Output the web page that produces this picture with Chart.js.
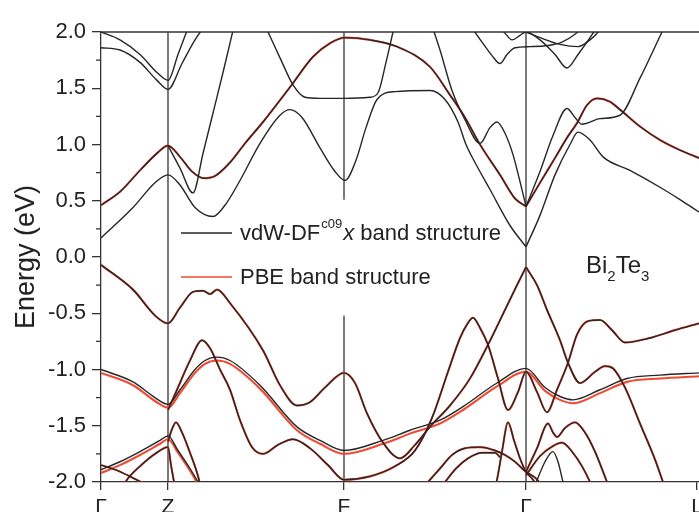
<!DOCTYPE html>
<html>
<head>
<meta charset="utf-8">
<script src="https://cdn.jsdelivr.net/npm/chart.js@4.4.1/dist/chart.umd.min.js"></script>
<style>
  body { margin: 0; background: #fff; }
  canvas { display: block; }
</style>
</head>
<body>
<canvas id="bands" width="699" height="512"></canvas>
<script>
// k-path (arbitrary path length units) and high-symmetry labels
const pathK = [0, 0.67, 2.43, 4.25, 5.96];
const pathLabels = ['Γ', 'Z', 'F', 'Γ', 'L'];

// conduction bands (vdW-DF only unless noted)
const u1K = [0, 0.19, 0.39, 0.56, 0.67, 0.77, 0.88];
const u1E = [2.00, 1.93, 1.80, 1.64, 1.57, 1.80, 2.06];
const u2K = [0, 0.19, 0.39, 0.56, 0.67, 0.81, 0.94, 1.04];
const u2E = [1.86, 1.84, 1.73, 1.57, 1.49, 1.72, 1.93, 2.06];
const u3K = [0.67, 0.79, 0.92, 1.02, 1.12, 1.22, 1.34];
const u3E = [0.99, 0.79, 0.57, 0.92, 1.28, 1.64, 2.09];
const u4K = [0, 0.19, 0.39, 0.57, 0.67, 0.79, 0.91, 1.03, 1.14, 1.29, 1.44, 1.62, 1.89, 2.12, 2.29, 2.44, 2.69, 2.96, 3.29, 3.49, 3.64, 3.79, 3.99, 4.14, 4.25];
const u4E = [0.46, 0.58, 0.77, 0.93, 0.99, 0.89, 0.76, 0.70, 0.72, 0.84, 1.01, 1.20, 1.51, 1.78, 1.90, 1.95, 1.93, 1.87, 1.69, 1.44, 1.24, 1.00, 0.73, 0.52, 0.45];
const c1K = [0, 0.32, 0.54, 0.67, 0.79, 0.94, 1.12, 1.24, 1.39, 1.59, 1.79, 1.89, 2.01, 2.19, 2.34, 2.44, 2.55, 2.65, 2.76, 2.94, 3.29, 3.44, 3.57, 3.65, 3.74, 3.89, 4.09, 4.25];
const c1E = [0.17, 0.44, 0.66, 0.73, 0.64, 0.44, 0.36, 0.46, 0.68, 1.01, 1.26, 1.31, 1.24, 0.97, 0.76, 0.68, 0.86, 1.15, 1.40, 1.47, 1.48, 1.40, 1.20, 1.00, 0.84, 0.60, 0.28, 0.09];
const f1K = [1.61, 1.67, 1.79, 1.92, 2.04, 2.19, 2.43, 2.69, 2.77, 2.85, 2.92, 2.95];
const f1E = [2.11, 2.00, 1.77, 1.53, 1.42, 1.41, 1.41, 1.42, 1.46, 1.73, 2.00, 2.11];
const lbK = [3.29, 3.39, 3.51, 3.64, 3.79, 3.89, 3.96, 4.04, 4.12, 4.19, 4.25];
const lbE = [2.11, 1.84, 1.48, 1.22, 1.01, 1.15, 1.20, 1.10, 0.91, 0.67, 0.45];
const t1K = [3.69, 3.81, 3.91, 3.99, 4.06, 4.14, 4.29, 4.47, 4.61, 4.74, 4.84];
const t1E = [2.06, 1.91, 1.79, 1.72, 1.80, 1.86, 1.87, 1.88, 1.91, 1.98, 2.06];
const t2K = [3.97, 4.04, 4.11, 4.19, 4.25, 4.39, 4.54, 4.66, 4.77, 4.89, 4.97];
const t2E = [2.06, 1.99, 1.93, 1.97, 2.00, 1.93, 1.80, 1.68, 1.80, 1.95, 2.06];
const t3K = [4.25, 4.39, 4.59, 4.77, 4.89, 4.97, 5.01];
const t3E = [2.00, 1.95, 1.89, 1.87, 1.93, 2.00, 2.06];
const r1K = [4.25, 4.39, 4.54, 4.66, 4.76, 4.86, 4.96, 5.09, 5.19, 5.39, 5.59, 5.79, 5.98];
const r1E = [0.45, 0.66, 0.88, 1.06, 1.19, 1.35, 1.41, 1.38, 1.31, 1.16, 1.04, 0.95, 0.88];
const r2K = [4.25, 4.39, 4.52, 4.66, 4.74, 4.81, 4.99, 5.19, 5.39, 5.61, 5.67];
const r2E = [0.45, 0.76, 1.08, 1.32, 1.24, 1.18, 1.23, 1.26, 1.59, 2.00, 2.11];
const r3K = [4.25, 4.39, 4.54, 4.69, 4.77, 4.89, 5.02, 5.29, 5.59, 5.79, 5.98];
const r3E = [0.09, 0.37, 0.73, 1.00, 1.11, 1.04, 0.89, 0.77, 0.62, 0.51, 0.40];

// valence bands
const v1K = [0, 0.32, 0.54, 0.67, 0.79, 0.92, 1.02, 1.09, 1.16, 1.29, 1.62, 1.79, 1.96, 2.09, 2.24, 2.43, 2.54, 2.66, 2.82, 2.99, 3.14, 3.29, 3.49, 3.69, 3.87, 4.04, 4.16, 4.25];
const v1E = [-0.07, -0.29, -0.52, -0.59, -0.45, -0.31, -0.30, -0.33, -0.29, -0.41, -0.83, -1.14, -1.32, -1.29, -1.16, -1.03, -1.12, -1.39, -1.65, -1.79, -1.67, -1.51, -1.32, -1.08, -0.78, -0.47, -0.25, -0.09];
const g1K = [4.25, 4.36, 4.46, 4.59, 4.67, 4.79, 4.94, 5.04, 5.12, 5.24, 5.39, 5.54, 5.62, 5.67];
const g1E = [-0.09, -0.25, -0.47, -0.74, -0.94, -1.12, -1.02, -0.97, -0.99, -1.16, -1.48, -1.80, -2.00, -2.12];
const s1K = [0.67, 0.76, 0.89, 1.01, 1.09, 1.19, 1.29, 1.39, 1.51, 1.62, 1.77, 1.92, 2.09, 2.27, 2.43, 2.69, 2.94, 3.14, 3.31, 3.47, 3.59, 3.66, 3.72, 3.79, 3.87, 3.97, 4.07, 4.17, 4.25, 4.36, 4.46, 4.56, 4.67, 4.76, 4.87, 4.99, 5.11, 5.24, 5.49, 5.74, 5.98];
const s1E = [-1.36, -1.18, -0.92, -0.74, -0.81, -1.00, -1.18, -1.45, -1.69, -1.75, -1.67, -1.62, -1.70, -1.85, -1.98, -1.95, -1.86, -1.72, -1.43, -1.02, -0.72, -0.60, -0.54, -0.63, -0.78, -1.08, -1.36, -1.20, -1.02, -1.20, -1.38, -1.18, -0.94, -0.69, -0.57, -0.56, -0.65, -0.76, -0.72, -0.65, -0.59];
const gmK = [0, 0.32, 0.54, 0.67, 0.79, 0.94, 1.04, 1.16, 1.29, 1.59, 1.96, 2.19, 2.43, 2.82, 3.09, 3.39, 3.62, 3.96, 4.25, 4.44, 4.59, 4.72, 4.99, 5.26, 5.59, 5.98];
const gmE = [-1.00, -1.11, -1.25, -1.31, -1.18, -1.00, -0.92, -0.89, -0.92, -1.14, -1.51, -1.63, -1.72, -1.63, -1.54, -1.45, -1.33, -1.12, -0.99, -1.16, -1.24, -1.27, -1.18, -1.08, -1.05, -1.03];
const gmPbeE = [-1.03, -1.14, -1.28, -1.34, -1.21, -1.03, -0.95, -0.92, -0.95, -1.17, -1.54, -1.66, -1.75, -1.66, -1.57, -1.48, -1.36, -1.15, -1.02, -1.19, -1.27, -1.30, -1.21, -1.11, -1.08, -1.06];
const l1K = [0, 0.19, 0.39, 0.59, 0.67, 0.77, 0.89, 0.97, 1.01];
const l1E = [-1.89, -1.82, -1.73, -1.63, -1.59, -1.72, -1.88, -2.00, -2.07];
const l1PbeE = [-1.92, -1.85, -1.76, -1.66, -1.62, -1.74, -1.90, -2.02, -2.09];
const l2K = [0.67, 0.71, 0.75, 0.81, 0.89, 0.98, 1.00];
const l2E = [-1.64, -1.53, -1.47, -1.56, -1.74, -1.98, -2.07];
const l3K = [0.19, 0.26, 0.39, 0.54, 0.67, 0.70, 0.73, 0.75];
const l3E = [-2.09, -1.98, -1.86, -1.75, -1.69, -1.85, -2.00, -2.09];
const l4K = [0, 0.14, 0.29, 0.40, 0.49];
const l4E = [-1.85, -1.89, -1.95, -2.00, -2.04];
const k1K = [3.27, 3.39, 3.51, 3.64, 3.79, 3.94, 4.04, 4.14, 4.25, 4.34, 4.41];
const k1E = [-2.00, -1.88, -1.76, -1.70, -1.69, -1.72, -1.76, -1.82, -1.91, -1.96, -2.03];
const k2K = [3.44, 3.55, 3.67, 3.81, 3.94, 3.99];
const k2E = [-2.00, -1.88, -1.79, -1.74, -1.74, -1.78];
const k3K = [3.93, 3.96, 4.01, 4.07, 4.13, 4.19, 4.25, 4.32, 4.37];
const k3E = [-2.07, -1.98, -1.73, -1.47, -1.63, -1.79, -1.91, -1.98, -2.07];
const k4K = [4.25, 4.36, 4.47, 4.52, 4.56, 4.64, 4.74, 4.84, 4.94, 5.06, 5.10];
const k4E = [-1.91, -1.70, -1.48, -1.56, -1.60, -1.52, -1.47, -1.56, -1.73, -2.00, -2.09];
const k5K = [4.25, 4.39, 4.52, 4.61, 4.71, 4.81, 4.89, 4.93];
const k5E = [-1.94, -1.77, -1.68, -1.65, -1.73, -1.86, -2.00, -2.09];
const k6K = [4.34, 4.44, 4.52, 4.57, 4.62, 4.64];
const k6E = [-2.03, -1.82, -1.73, -1.82, -2.00, -2.07];

const vdwBands = [
    [u1K, u1E], [u2K, u2E], [u3K, u3E], [u4K, u4E], [c1K, c1E], [f1K, f1E],
    [lbK, lbE], [t1K, t1E], [t2K, t2E], [t3K, t3E], [r1K, r1E], [r2K, r2E],
    [r3K, r3E], [v1K, v1E], [g1K, g1E], [s1K, s1E], [gmK, gmE], [l1K, l1E],
    [l2K, l2E], [l3K, l3E], [l4K, l4E], [k1K, k1E], [k2K, k2E], [k3K, k3E],
    [k4K, k4E], [k5K, k5E], [k6K, k6E],
];
const pbeBands = [
    [u4K, u4E], [r1K, r1E], [v1K, v1E], [g1K, g1E], [s1K, s1E], [gmK, gmPbeE],
    [l1K, l1PbeE], [l2K, l2E], [l3K, l3E], [l4K, l4E], [k1K, k1E], [k2K, k2E],
    [k3K, k3E], [k4K, k4E], [k5K, k5E],
];

const black = 'rgb(38,38,38)';
const red = 'rgb(238,74,52)';
const font = '"Liberation Sans", Arial, sans-serif';

function band(pair, color, width, order) {
    return {
        data: pair[0].map((k, i) => ({ x: k, y: pair[1][i] })),
        borderColor: color,
        borderWidth: width,
        pointRadius: 0,
        cubicInterpolationMode: 'monotone',
        fill: false,
        order: order,
    };
}

const datasets = vdwBands
    .map((b) => band(b, black, 1.4, 0))
    .concat(pbeBands.map((b) => band(b, red, 2.1, 1)));

const decor = {
    id: 'decor',
    beforeDatasetsDraw(chart) {
        const { ctx, chartArea, scales } = chart;
        const x = scales.x;
        const y = scales.y;
        ctx.save();
        ctx.strokeStyle = '#333';
        ctx.lineWidth = 1.3;
        // top frame
        ctx.beginPath();
        ctx.moveTo(chartArea.left, chartArea.top);
        ctx.lineTo(chartArea.right, chartArea.top);
        ctx.stroke();
        // high-symmetry verticals (F is interrupted by the legend)
        [1, 3].forEach((i) => {
            const px = x.getPixelForValue(pathK[i]);
            ctx.beginPath();
            ctx.moveTo(px, chartArea.top);
            ctx.lineTo(px, chartArea.bottom);
            ctx.stroke();
        });
        const fx = x.getPixelForValue(pathK[2]);
        ctx.beginPath();
        ctx.moveTo(fx, chartArea.top);
        ctx.lineTo(fx, y.getPixelForValue(0.51));
        ctx.moveTo(fx, y.getPixelForValue(-0.52));
        ctx.lineTo(fx, chartArea.bottom);
        ctx.stroke();
        // minor ticks
        for (let v = -1.75; v < 2; v += 0.5) {
            const py = y.getPixelForValue(v);
            ctx.beginPath();
            ctx.moveTo(chartArea.left - 5, py);
            ctx.lineTo(chartArea.left, py);
            ctx.stroke();
        }
        ctx.restore();
    },
    afterDatasetsDraw(chart) {
        const ctx = chart.ctx;
        ctx.save();
        // legend
        ctx.lineWidth = 1.4;
        ctx.strokeStyle = black;
        ctx.beginPath();
        ctx.moveTo(181, 233);
        ctx.lineTo(232, 233);
        ctx.stroke();
        ctx.strokeStyle = red;
        ctx.beginPath();
        ctx.moveTo(181, 277);
        ctx.lineTo(232, 277);
        ctx.stroke();

        ctx.fillStyle = '#222';
        ctx.textBaseline = 'middle';
        let tx = 240;
        ctx.font = '22px ' + font;
        ctx.fillText('vdW-DF', tx, 234);
        tx += ctx.measureText('vdW-DF').width + 1;
        ctx.font = '13px ' + font;
        ctx.fillText('c09', tx, 224);
        tx += ctx.measureText('c09').width + 1;
        ctx.font = 'italic 22px ' + font;
        ctx.fillText('x', tx, 234);
        tx += ctx.measureText('x').width;
        ctx.font = '22px ' + font;
        ctx.fillText(' band structure', tx, 234);
        ctx.fillText('PBE band structure', 240, 278);

        // compound label
        let bx = 586;
        const parts = [['Bi', 24, 266], ['2', 15, 277], ['Te', 24, 266], ['3', 15, 277]];
        parts.forEach((p) => {
            ctx.font = p[1] + 'px ' + font;
            ctx.fillText(p[0], bx, p[2]);
            bx += ctx.measureText(p[0]).width;
        });
        ctx.restore();
    },
};

new Chart(document.getElementById('bands'), {
    type: 'line',
    data: { datasets: datasets },
    plugins: [decor],
    options: {
        responsive: false,
        animation: false,
        layout: { padding: { top: 32, left: 0, right: 0, bottom: 0 } },
        plugins: { legend: { display: false }, tooltip: { enabled: false } },
        scales: {
            x: {
                type: 'linear',
                min: 0,
                max: 5.98,
                afterBuildTicks: (axis) => {
                    axis.ticks = pathK.map((v) => ({ value: v }));
                },
                afterFit: (axis) => {
                    axis.height = 30;
                    axis.paddingLeft = 0;
                    axis.paddingRight = 0;
                },
                ticks: {
                    autoSkip: false,
                    maxRotation: 0,
                    padding: 5,
                    color: '#222',
                    font: { family: font, size: 21 },
                    callback: (v, i) => pathLabels[i],
                },
                grid: { drawOnChartArea: false, tickLength: 8, color: '#333', lineWidth: 1.3 },
                border: { color: '#333', width: 1.3 },
            },
            y: {
                min: -2,
                max: 2,
                afterFit: (axis) => {
                    axis.width = 101;
                    axis.paddingTop = 0;
                    axis.paddingBottom = 0;
                },
                ticks: {
                    stepSize: 0.5,
                    padding: 6,
                    color: '#222',
                    font: { family: font, size: 22 },
                    callback: (v) => v.toFixed(1),
                },
                grid: { drawOnChartArea: false, tickLength: 9, color: '#333', lineWidth: 1.3 },
                border: { color: '#333', width: 1.3 },
                title: {
                    display: true,
                    text: 'Energy (eV)',
                    color: '#222',
                    font: { family: font, size: 27 },
                    padding: { top: 10, bottom: 0 },
                },
            },
        },
    },
});
</script>
</body>
</html>
